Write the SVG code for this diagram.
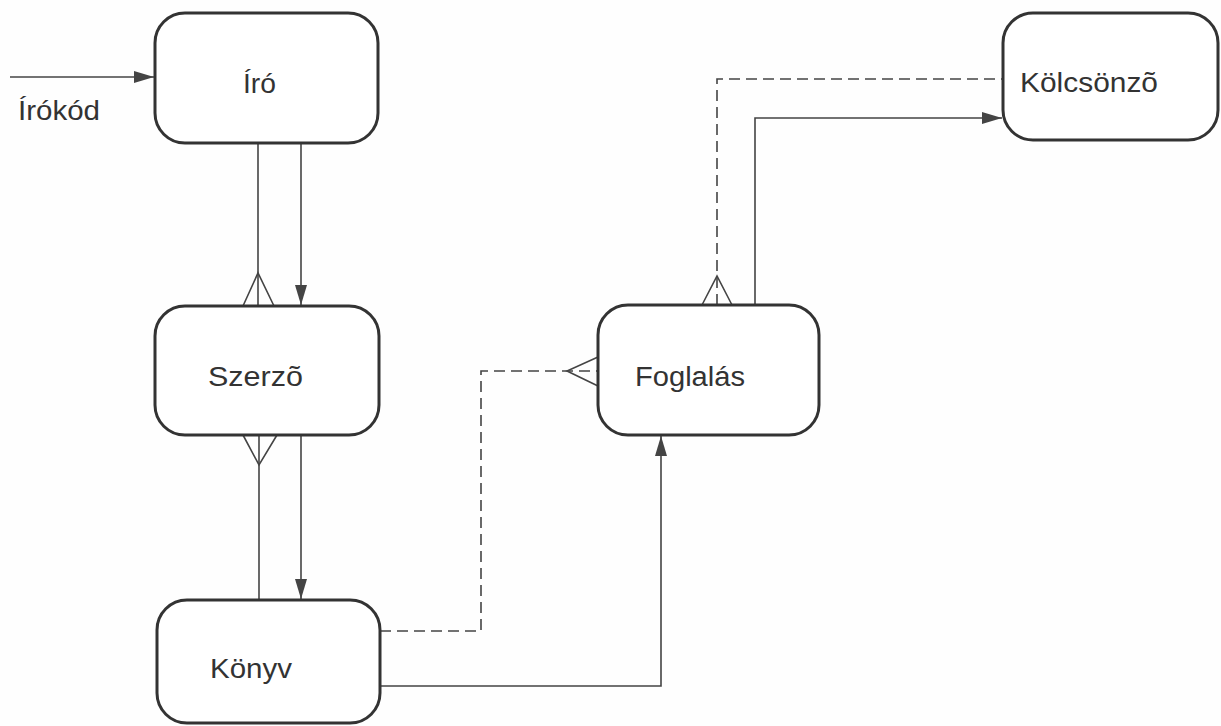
<svg xmlns="http://www.w3.org/2000/svg" width="1221" height="726" viewBox="0 0 1221 726">
  <style>
    .box { fill: #ffffff; stroke: #333333; stroke-width: 3; }
    .lbl { font-family: "Liberation Sans", Arial, sans-serif; font-size: 27px; fill: #333333; }
    .ln { fill: none; stroke: #444444; stroke-width: 1.6; }
    .dash { stroke-dasharray: 11 6; }
  </style>
  <defs>
    <marker id="arrow" viewBox="0 0 20 12" refX="20" refY="6" markerWidth="20" markerHeight="12" markerUnits="userSpaceOnUse" orient="auto">
      <path d="M0,0 L20,6 L0,12 Z" fill="#444444"/>
    </marker>
  </defs>
  <rect width="1221" height="726" fill="#fefefe"/>

  <g id="connectors">
    <!-- entry key into Író -->
    <line class="ln" x1="10" y1="77" x2="154" y2="77" marker-end="url(#arrow)"/>
    <text class="lbl" x="18" y="120" textLength="82" lengthAdjust="spacingAndGlyphs">Írókód</text>

    <!-- Író – Szerző -->
    <line class="ln" x1="258" y1="143" x2="258" y2="306"/>
    <polyline class="ln" points="243,306 258,273 274,306"/>
    <line class="ln" x1="301" y1="143" x2="301" y2="305" marker-end="url(#arrow)"/>

    <!-- Szerző – Könyv -->
    <line class="ln" x1="259" y1="435" x2="259" y2="600"/>
    <polyline class="ln" points="243,435 259,465 277,435"/>
    <line class="ln" x1="301" y1="435" x2="301" y2="599" marker-end="url(#arrow)"/>

    <!-- Könyv – Foglalás (optional) -->
    <polyline class="ln dash" points="380,631 481,631 481,371 598,371"/>
    <polyline class="ln" points="598,357 567,371 598,386"/>

    <!-- Könyv – Foglalás -->
    <polyline class="ln" points="380,686 661,686 661,436" marker-end="url(#arrow)"/>

    <!-- Foglalás – Kölcsönző (optional) -->
    <polyline class="ln dash" points="717,305 717,79 1003,79"/>
    <polyline class="ln" points="702,305 717,276 732,305"/>

    <!-- Foglalás – Kölcsönző -->
    <polyline class="ln" points="755,305 755,118 1002,118" marker-end="url(#arrow)"/>
  </g>

  <g id="iro">
    <rect class="box" x="155" y="13" width="223" height="130" rx="30" ry="30"/>
    <text class="lbl" x="243" y="93" textLength="33" lengthAdjust="spacingAndGlyphs">Író</text>
  </g>

  <g id="szerzo">
    <rect class="box" x="155" y="306" width="224" height="129" rx="30" ry="30"/>
    <text class="lbl" x="208" y="386" textLength="95" lengthAdjust="spacingAndGlyphs">Szerzõ</text>
  </g>

  <g id="konyv">
    <rect class="box" x="157" y="600" width="223" height="123" rx="30" ry="30"/>
    <text class="lbl" x="210" y="678" textLength="82" lengthAdjust="spacingAndGlyphs">Könyv</text>
  </g>

  <g id="foglalas">
    <rect class="box" x="598" y="305" width="221" height="130" rx="30" ry="30"/>
    <text class="lbl" x="635" y="386" textLength="110" lengthAdjust="spacingAndGlyphs">Foglalás</text>
  </g>

  <g id="kolcsonzo">
    <rect class="box" x="1003" y="13" width="215" height="127" rx="30" ry="30"/>
    <text class="lbl" x="1020" y="92" textLength="138" lengthAdjust="spacingAndGlyphs">Kölcsönzõ</text>
  </g>
</svg>
